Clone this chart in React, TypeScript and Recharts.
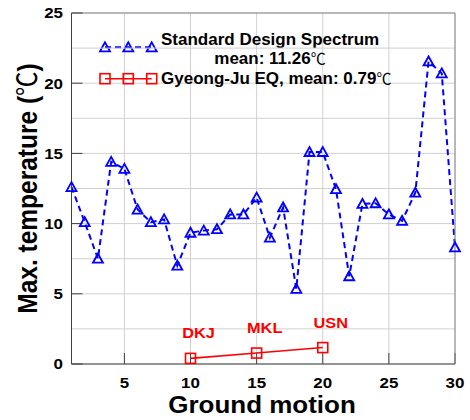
import { LineChart, Line, XAxis, YAxis, CartesianGrid, ReferenceLine, LabelList } from "recharts";

const groundMotions = [1, 2, 3, 4, 5, 6, 7, 8, 9, 10, 11, 12, 13, 14, 15, 16, 17, 18, 19, 20, 21, 22, 23, 24, 25, 26, 27, 28, 29, 30];
const spectrumTemps = [12.6, 10.1, 7.5, 14.4, 13.9, 11.0, 10.1, 10.3, 7.0, 9.35, 9.5, 9.6, 10.65, 10.65, 11.85, 9.0, 11.15, 5.35, 15.1, 15.1, 12.45, 6.25, 11.4, 11.45, 10.65, 10.2, 12.2, 21.55, 20.7, 8.3];

const eqMotions = [10, 15, 20];
const eqTemps = [0.4, 0.78, 1.17];
const eqSites = ["DKJ", "MKL", "USN"];

const xTicks = [5, 10, 15, 20, 25, 30];
const yTicks = [0, 5, 10, 15, 20, 25];
const yMinorTicks = [2.5, 7.5, 12.5, 17.5, 22.5];

const spectrumData = groundMotions.map((m, i) => ({ motion: m, temp: spectrumTemps[i] }));
const eqData = eqMotions.map((m, i) => ({ motion: m, temp: eqTemps[i], site: eqSites[i] }));

const BLUE = "#0000ff";
const RED = "#ff0000";
const FONT = "'Liberation Sans', Arial, sans-serif";
const CJK = "'Noto Sans CJK KR', 'Noto Sans CJK SC', sans-serif";
const STRETCH = 1.13;

function Triangle({ cx, cy }: { cx: number; cy: number }) {
  return (
    <polygon
      points={`${cx},${cy - 5} ${cx - 5},${cy + 4} ${cx + 5},${cy + 4}`}
      fill="none"
      stroke={BLUE}
      strokeWidth={1.8}
    />
  );
}

function Square({ cx, cy }: { cx: number; cy: number }) {
  return <rect x={cx - 5} y={cy - 5} width={10} height={10} fill="none" stroke={RED} strokeWidth={1.6} />;
}

function TriangleDot(props: any) {
  if (props.cx == null || props.cy == null) return <g />;
  return <Triangle cx={props.cx} cy={props.cy} />;
}

function SquareDot(props: any) {
  if (props.cx == null || props.cy == null) return <g />;
  return <Square cx={props.cx} cy={props.cy} />;
}

function Celsius({ size }: { size?: number }) {
  return (
    <tspan fontFamily={CJK} fontWeight="normal" fontSize={size}>
      ℃
    </tspan>
  );
}

function StretchText({ x, y, anchor, size, fill = "#000", dy, children }: any) {
  return (
    <text
      transform={`translate(${x},${y}) scale(${STRETCH},1)`}
      textAnchor={anchor}
      fontSize={size}
      fontWeight="bold"
      fontFamily={FONT}
      fill={fill}
      dy={dy}
    >
      {children}
    </text>
  );
}

function YTick(props: any) {
  return (
    <StretchText x={props.x} y={props.y} anchor="end" size={15} dy="0.36em">
      {props.payload.value}
    </StretchText>
  );
}

function XTick(props: any) {
  return (
    <StretchText x={props.x} y={props.y} anchor="middle" size={15} dy="0.72em">
      {props.payload.value}
    </StretchText>
  );
}

function SiteLabel(props: any) {
  if (props.value == null) return null;
  return (
    <StretchText x={props.x + 8} y={props.y - 20} anchor="middle" size={14.5} fill={RED}>
      {props.value}
    </StretchText>
  );
}

function LegendBox() {
  return (
    <g fontFamily={FONT} fontWeight="bold" fontSize={17}>
      <line x1={105} y1={47.3} x2={151.7} y2={47.3} stroke={BLUE} strokeWidth={2} strokeDasharray="6 4" />
      <Triangle cx={105} cy={47.3} />
      <Triangle cx={128.3} cy={47.3} />
      <Triangle cx={151.7} cy={47.3} />
      <text x={161} y={45} fill="#000">Standard Design Spectrum</text>
      <text x={270} y={64} fill="#000" textAnchor="middle">
        mean: 11.26<Celsius size={15} />
      </text>
      <line x1={105} y1={78.7} x2={151.7} y2={78.7} stroke={RED} strokeWidth={1.6} />
      <Square cx={105} cy={78.7} />
      <Square cx={128.3} cy={78.7} />
      <Square cx={151.7} cy={78.7} />
      <text x={161} y={84} fill="#000">
        Gyeong-Ju EQ, mean: 0.79<Celsius size={15} />
      </text>
    </g>
  );
}

export default function App() {
  return (
    <div style={{ position: "absolute", left: 0, top: 0, background: "#fff" }}>
      <LineChart width={470} height={420} margin={{ top: 13, right: 15, bottom: 0, left: 0 }}>
        <CartesianGrid stroke="#d0d0d0" strokeWidth={1} />
        {yMinorTicks.map((v) => (
          <ReferenceLine key={v} y={v} stroke="#d0d0d0" strokeWidth={1} />
        ))}
        <XAxis
          dataKey="motion"
          type="number"
          domain={[1, 30]}
          ticks={xTicks}
          height={56}
          stroke="#404040"
          tickSize={-11}
          tickMargin={24}
          tick={<XTick />}
        />
        <XAxis
          xAxisId="top"
          type="number"
          domain={[1, 30]}
          ticks={xTicks}
          orientation="top"
          mirror
          tick={false}
          tickSize={11}
          stroke="#8a8a8a"
          tickLine={{ stroke: "#404040" }}
        />
        <YAxis
          type="number"
          domain={[0, 25]}
          ticks={yTicks}
          width={71.5}
          stroke="#404040"
          tickSize={-11}
          tickMargin={19.5}
          tick={<YTick />}
        />
        <YAxis
          yAxisId="right"
          type="number"
          domain={[0, 25]}
          ticks={yTicks}
          orientation="right"
          mirror
          tick={false}
          tickSize={11}
          stroke="#8a8a8a"
          tickLine={{ stroke: "#404040" }}
        />
        <Line
          data={spectrumData}
          dataKey="temp"
          stroke={BLUE}
          strokeWidth={2}
          strokeDasharray="6 4"
          dot={<TriangleDot />}
          isAnimationActive={false}
        />
        <Line
          data={eqData}
          dataKey="temp"
          stroke={RED}
          strokeWidth={1.6}
          dot={<SquareDot />}
          isAnimationActive={false}
        >
          <LabelList dataKey="site" content={<SiteLabel />} />
        </Line>
        <LegendBox />
        <StretchText x={262} y={413} anchor="middle" size={23}>
          Ground motion
        </StretchText>
        <text
          transform={`translate(37,188.5) scale(${STRETCH},1) rotate(-90)`}
          textAnchor="middle"
          fontSize={24.5}
          fontWeight="bold"
          fontFamily={FONT}
          fill="#000"
        >
          Max. temperature (<Celsius />)
        </text>
      </LineChart>
    </div>
  );
}
